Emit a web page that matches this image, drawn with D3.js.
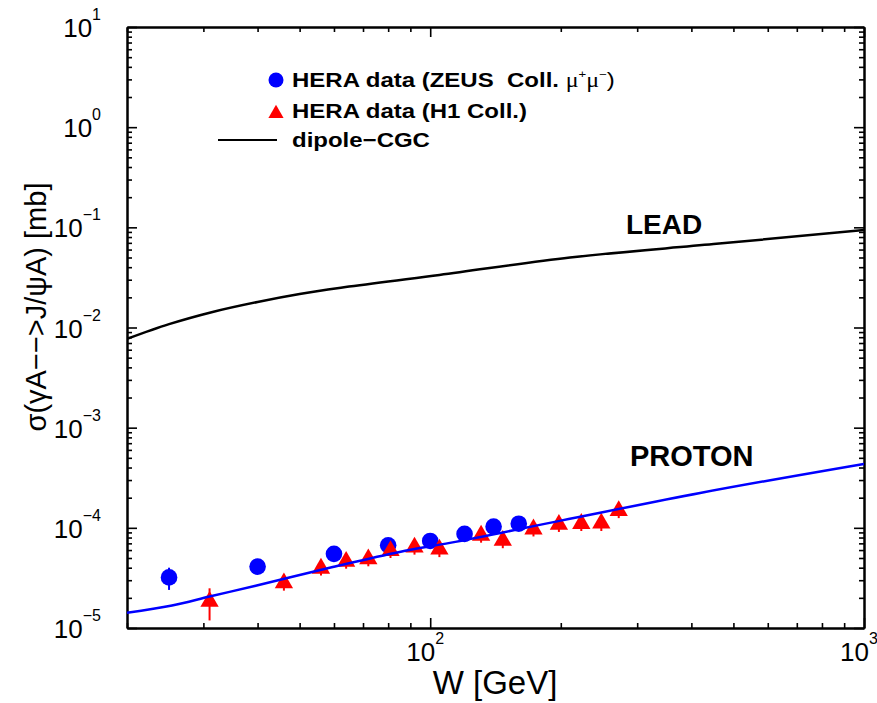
<!DOCTYPE html>
<html>
<head>
<meta charset="utf-8">
<script src="https://cdnjs.cloudflare.com/ajax/libs/d3/7.8.5/d3.min.js"></script>
<style>
body{margin:0;background:#fff;}
text{font-family:"Liberation Sans",Arial,Helvetica,sans-serif;fill:#000;}
.axis path,.axis line{stroke:#000;}
</style>
</head>
<body>
<script>
// HERA data, ZEUS (mu+ mu-)
var zeusW = [25, 40, 60, 80, 100, 120, 140, 160];
var zeusSig = [3.2e-5, 4.1e-5, 5.5e-5, 6.7e-5, 7.4e-5, 8.7e-5, 1.03e-4, 1.10e-4];
var zeusErr = [0.8e-5, 0.3e-5, 0.4e-5, 0.5e-5, 0.5e-5, 0.6e-5, 0.7e-5, 0.7e-5];

// HERA data, H1
var h1W = [31, 46, 56, 64, 72, 81, 92, 105, 131, 147, 173, 198, 223, 248, 272];
var h1Sig = [1.84e-5, 2.81e-5, 3.94e-5, 4.61e-5, 4.88e-5, 5.9e-5, 6.4e-5, 6.1e-5, 8.41e-5, 7.46e-5, 9.7e-5, 1.08e-4, 1.10e-4, 1.11e-4, 1.48e-4];
var h1Err = [0.65e-5, 0.45e-5, 0.6e-5, 0.7e-5, 0.75e-5, 0.9e-5, 1.0e-5, 1.0e-5, 1.3e-5, 1.2e-5, 1.5e-5, 1.7e-5, 1.7e-5, 1.8e-5, 2.3e-5];

// dipole-CGC curves
var leadW = [20, 25, 31.5, 40, 50, 65, 105, 210, 450, 1000];
var leadSig = [7.7e-3, 1.08e-2, 1.43e-2, 1.80e-2, 2.16e-2, 2.56e-2, 3.35e-2, 5.0e-2, 6.8e-2, 9.4e-2];
var protonW = [20, 25.4, 31, 39.6, 59.6, 85, 111, 200, 419, 1000];
var protonSig = [1.42e-5, 1.68e-5, 2.06e-5, 2.64e-5, 4.06e-5, 5.75e-5, 7.08e-5, 1.18e-4, 2.23e-4, 4.35e-4];

var yExp = [-5, -4, -3, -2, -1, 0, 1];
var xExp = [2, 3];

var w = 877, h = 703;
var pL = 127, pR = 864, pT = 27, pB = 628;

var x = d3.scaleLog().domain([20, 1000]).range([pL, pR]);
var y = d3.scaleLog().domain([1e-5, 10]).range([pB, pT]);

var svg = d3.select('body').append('svg')
    .attr('width', w)
    .attr('height', h);

function isDecade(d){
    var l = Math.log10(d);
    return Math.abs(l - Math.round(l)) < 1e-6;
}

var xMajor = x.ticks().filter(isDecade);
var xMinor = x.ticks().filter(function(d){ return !isDecade(d); });
var yMajor = y.ticks().filter(isDecade);
var yMinor = y.ticks().filter(function(d){ return !isDecade(d); });

function drawAxis(gen, tr, major, minor){
    [[minor, 5], [major, 10]].forEach(function(p){
        svg.append('g')
            .attr('class', 'axis')
            .attr('transform', tr)
            .call(gen.tickValues(p[0]).tickSize(-p[1]).tickSizeOuter(0).tickFormat(''))
            .call(function(g){
                g.select('.domain').attr('stroke-width', 2);
                g.selectAll('.tick line').attr('stroke-width', 1.6);
            });
    });
}
drawAxis(d3.axisBottom(x), 'translate(0,' + pB + ')', xMajor, xMinor);
drawAxis(d3.axisTop(x), 'translate(0,' + pT + ')', xMajor, xMinor);
drawAxis(d3.axisLeft(y), 'translate(' + pL + ',0)', yMajor, yMinor);
drawAxis(d3.axisRight(y), 'translate(' + pR + ',0)', yMajor, yMinor);

// tick labels
var yl = svg.selectAll('.ylab')
    .data(yExp)
    .enter().append('text')
    .attr('class', 'ylab')
    .attr('x', 101)
    .attr('y', function(d){ return y(Math.pow(10, d)) + 10; })
    .attr('text-anchor', 'end')
    .style('font-size', '26px');
yl.append('tspan').text('10');
yl.append('tspan')
    .attr('dy', -17)
    .style('font-size', '16px')
    .text(function(d){ return d < 0 ? '\u2212' + (-d) : d; });

var xl = svg.selectAll('.xlab')
    .data(xExp)
    .enter().append('text')
    .attr('class', 'xlab')
    .attr('x', function(d){ return x(Math.pow(10, d)) - 24; })
    .attr('y', 661)
    .style('font-size', '26px');
xl.append('tspan').text('10');
xl.append('tspan')
    .attr('dy', -17)
    .style('font-size', '16px')
    .text(function(d){ return d; });

// axis titles
svg.append('text')
    .attr('x', 495)
    .attr('y', 694)
    .attr('text-anchor', 'middle')
    .style('font-size', '33px')
    .text('W [GeV]');

svg.append('text')
    .attr('transform', 'translate(46,307) rotate(-90)')
    .attr('text-anchor', 'middle')
    .style('font-size', '29px')
    .text('\u03c3(\u03b3A\u2212\u2212>J/\u03c8A) [mb]');

// plot content
svg.append('clipPath').attr('id', 'clip')
    .append('rect')
    .attr('x', pL).attr('y', pT)
    .attr('width', pR - pL).attr('height', pB - pT);

var plot = svg.append('g').attr('clip-path', 'url(#clip)');

var line = d3.line()
    .x(function(d){ return x(d[0]); })
    .y(function(d){ return y(d[1]); })
    .curve(d3.curveMonotoneX);

plot.append('path')
    .datum(d3.zip(leadW, leadSig))
    .attr('d', line)
    .attr('fill', 'none')
    .attr('stroke', '#000')
    .attr('stroke-width', 2.5);

// ZEUS points
var zeus = d3.zip(zeusW, zeusSig, zeusErr);
plot.selectAll('.zerr')
    .data(zeus)
    .enter().append('line')
    .attr('class', 'zerr')
    .attr('x1', function(d){ return x(d[0]); })
    .attr('x2', function(d){ return x(d[0]); })
    .attr('y1', function(d){ return y(d[1] - d[2]); })
    .attr('y2', function(d){ return y(d[1] + d[2]); })
    .attr('stroke', '#0000ff')
    .attr('stroke-width', 2);
plot.selectAll('.zpt')
    .data(zeus)
    .enter().append('circle')
    .attr('class', 'zpt')
    .attr('cx', function(d){ return x(d[0]); })
    .attr('cy', function(d){ return y(d[1]); })
    .attr('r', 8.3)
    .attr('fill', '#0000ff');

// H1 points
var h1 = d3.zip(h1W, h1Sig, h1Err);
plot.selectAll('.herr')
    .data(h1)
    .enter().append('line')
    .attr('class', 'herr')
    .attr('x1', function(d){ return x(d[0]); })
    .attr('x2', function(d){ return x(d[0]); })
    .attr('y1', function(d){ return y(d[1] - d[2]); })
    .attr('y2', function(d){ return y(d[1] + d[2]); })
    .attr('stroke', '#ff0000')
    .attr('stroke-width', 2);
plot.selectAll('.hpt')
    .data(h1)
    .enter().append('path')
    .attr('class', 'hpt')
    .attr('d', d3.symbol(d3.symbolTriangle, 145))
    .attr('transform', function(d){ return 'translate(' + x(d[0]) + ',' + y(d[1]) + ')'; })
    .attr('fill', '#ff0000');

plot.append('path')
    .datum(d3.zip(protonW, protonSig))
    .attr('d', line)
    .attr('fill', 'none')
    .attr('stroke', '#0000ff')
    .attr('stroke-width', 2.5);

// curve labels
svg.append('text')
    .attr('x', 626)
    .attr('y', 234)
    .style('font-size', '28px')
    .style('font-weight', 'bold')
    .text('LEAD');
svg.append('text')
    .attr('x', 630)
    .attr('y', 466)
    .style('font-size', '29px')
    .style('font-weight', 'bold')
    .text('PROTON');

// legend
svg.append('circle')
    .attr('cx', 276).attr('cy', 80).attr('r', 7.5)
    .attr('fill', '#0000ff');
svg.append('path')
    .attr('d', d3.symbol(d3.symbolTriangle, 100))
    .attr('transform', 'translate(276,113.5)')
    .attr('fill', '#ff0000');
svg.append('line')
    .attr('x1', 218).attr('x2', 277)
    .attr('y1', 140).attr('y2', 140)
    .attr('stroke', '#000')
    .attr('stroke-width', 2);

var leg1 = svg.append('text')
    .attr('transform', 'translate(292,87) scale(1.2,1)')
    .style('font-size', '20px')
    .style('font-weight', 'bold');
leg1.append('tspan').text('HERA data (ZEUS\u00a0\u00a0Coll. ');
leg1.append('tspan').style('font-weight', 'normal').style('font-family', '"Liberation Serif",serif').text('\u03bc');
leg1.append('tspan').style('font-weight', 'normal').style('font-size', '11px').attr('dy', -9).text('+');
leg1.append('tspan').style('font-weight', 'normal').style('font-family', '"Liberation Serif",serif').attr('dy', 9).text('\u03bc');
leg1.append('tspan').style('font-weight', 'normal').style('font-size', '11px').attr('dy', -9).text('\u2212');
leg1.append('tspan').style('font-weight', 'normal').attr('dy', 9).text(')');

svg.append('text')
    .attr('transform', 'translate(292,117.5) scale(1.2,1)')
    .style('font-size', '20px')
    .style('font-weight', 'bold')
    .text('HERA data (H1 Coll.)');
svg.append('text')
    .attr('transform', 'translate(292,147) scale(1.2,1)')
    .style('font-size', '20px')
    .style('font-weight', 'bold')
    .text('dipole\u2212CGC');
</script>
</body>
</html>
